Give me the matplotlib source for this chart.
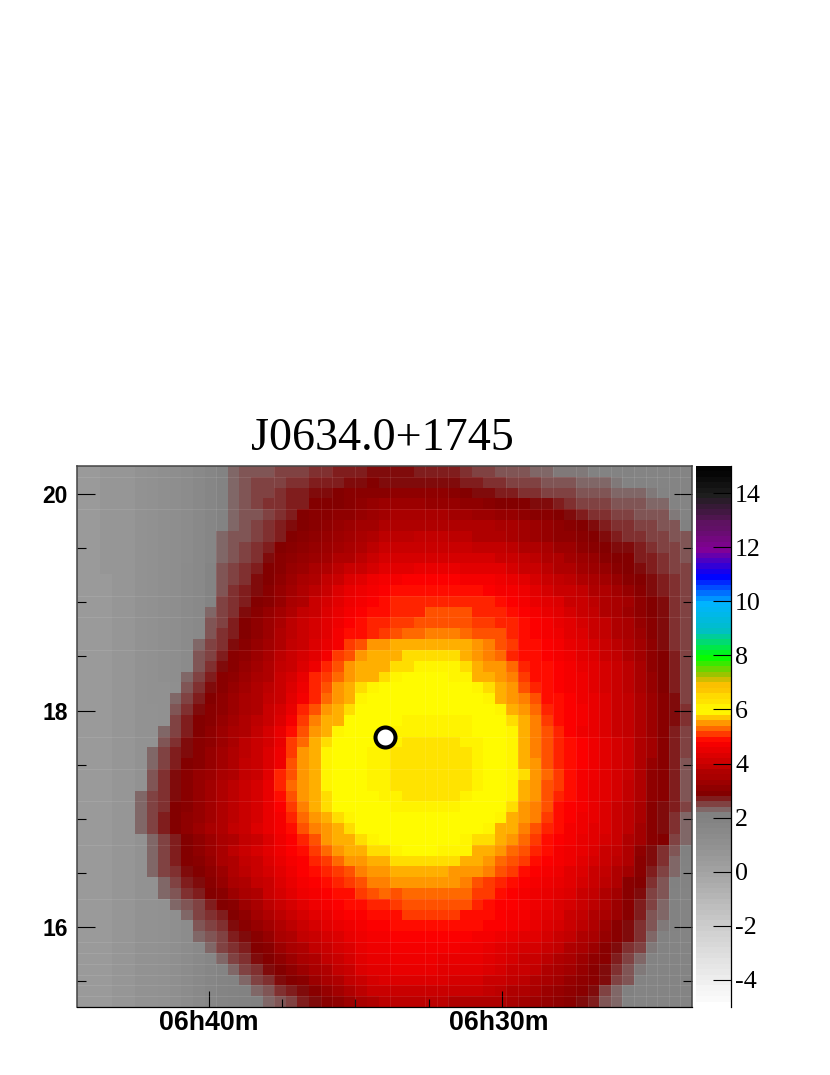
import numpy as np
import matplotlib
matplotlib.use('Agg')
import matplotlib.pyplot as plt
from matplotlib.colors import LinearSegmentedColormap
from matplotlib.transforms import ScaledTranslation

titulo = 'J0634.0+1745'
# celdas del mapa, de arriba abajo, en decimas (25 = 2.5)
mapa = [
 [6,6,7,7,8,9,10,11,12,13, 15,17,19,23,24,24,24,25,25,25, 26,26,27,27,27,28,28,28,28,27, 27,27,27,26,25,25,24,24,24,23, 23,22,22,22,20,19,19,19,18,18, 18,18,18],
 [6,6,7,7,8,9,10,11,12,13, 15,17,19,23,24,25,25,25,26,26, 27,27,27,28,28,29,28,28,28,28, 28,28,28,27,27,26,26,25,25,25, 24,24,24,23,23,23,22,19,19,18, 18,18,18],
 [6,6,7,7,8,9,10,11,12,13, 15,17,19,23,24,25,25,26,27,27, 28,28,29,30,30,30,30,31,31,31, 31,31,30,29,28,28,27,27,26,26, 25,25,25,24,24,24,23,23,23,22, 19,18,18],
 [6,6,7,7,8,9,10,11,12,13, 15,17,19,23,24,25,26,26,27,27, 29,29,29,30,31,32,33,33,33,33, 32,32,32,31,31,30,29,29,29,28, 28,27,26,25,25,25,24,24,24,23, 23,19,18],
 [6,6,7,7,8,9,10,11,12,13, 15,17,19,23,24,24,25,26,27,29, 30,30,31,31,32,33,34,35,35,35, 35,35,34,34,33,33,32,32,31,30, 30,29,28,27,26,26,25,25,24,24, 24,22,19],
 [6,6,7,7,8,9,10,11,12,13, 15,17,19,23,24,25,26,27,28,29, 30,31,32,33,34,34,36,37,37,37, 37,37,36,36,36,36,35,35,34,33, 32,31,30,29,28,27,26,26,25,25, 24,24,21],
 [6,6,7,7,8,9,10,11,12,13, 15,17,23,24,24,25,26,27,29,30, 31,32,33,34,35,36,38,38,38,39, 39,39,38,38,37,37,36,35,34,33, 32,31,31,30,29,28,27,26,26,25, 25,24,24],
 [6,6,7,7,8,9,10,11,12,13, 15,17,23,24,25,26,27,29,30,31, 32,33,34,35,36,38,40,40,40,40, 40,40,40,40,39,39,39,38,37,36, 35,33,33,31,30,29,28,28,27,26, 25,25,24],
 [6,6,7,7,8,9,10,11,12,13, 15,17,23,24,25,26,28,30,31,32, 33,34,36,37,38,40,42,42,42,42, 42,42,42,42,42,42,41,40,39,38, 37,36,34,33,32,30,29,29,27,27, 26,25,24],
 [6,6,7,7,8,9,10,11,12,14, 16,18,24,25,26,27,29,30,32,33, 35,36,38,40,41,42,44,44,44,45, 45,45,45,44,44,44,44,42,41,40, 38,37,36,34,33,32,30,29,28,27, 26,25,25],
 [5,6,6,7,8,9,10,11,12,14, 16,18,24,25,26,28,29,31,33,35, 37,39,41,43,44,46,47,47,48,48, 48,48,48,47,47,47,46,45,44,42, 41,39,38,36,35,34,32,30,29,28, 27,26,25],
 [5,6,6,7,8,9,10,11,12,14, 16,18,24,26,27,28,30,32,34,36, 38,41,43,45,46,47,48,49,49,49, 49,49,49,49,49,48,47,47,46,44, 42,41,40,39,37,36,34,32,30,28, 27,26,25],
 [5,6,6,7,8,9,10,11,12,14, 16,18,25,26,27,29,30,32,35,37, 40,42,44,46,47,48,49,50,50,50, 50,50,50,50,50,50,49,48,47,45, 44,43,41,40,38,37,35,34,31,29, 28,26,25],
 [5,6,6,7,8,9,10,11,12,14, 16,23,25,26,28,30,32,34,37,39, 41,43,45,47,48,49,49,50,50,50, 52,52,52,52,50,50,50,49,48,47, 45,44,42,41,39,37,35,33,31,29, 28,26,25],
 [5,6,6,7,8,9,10,11,12,14, 16,24,25,27,29,31,33,35,38,40, 42,44,46,48,49,50,50,51,51,52, 52,52,52,52,51,51,50,50,49,48, 47,45,44,42,41,39,37,35,32,30, 28,26,25],
 [5,6,6,7,8,9,10,11,12,14, 16,24,26,27,29,31,33,36,38,40, 42,44,47,49,49,50,51,52,53,53, 54,54,54,53,52,52,52,50,49,48, 47,46,44,43,41,39,37,35,33,30, 28,26,25],
 [5,6,6,7,8,9,10,11,12,14, 23,25,26,28,30,32,34,37,39,41, 43,45,47,51,52,55,55,56,56,56, 56,56,56,56,55,54,52,51,49,49, 48,47,45,44,42,40,38,36,34,31, 28,26,25],
 [5,6,6,7,8,9,10,11,12,14, 24,25,27,30,31,33,35,38,40,42, 44,47,51,52,55,56,57,57,58,58, 58,58,58,57,55,54,53,50,49,49, 48,47,46,44,43,41,39,37,34,31, 29,27,25],
 [5,6,6,7,8,9,10,11,12,14, 24,26,28,30,32,34,36,39,41,43, 46,50,52,55,56,57,57,58,58,59, 59,59,59,58,57,55,55,53,50,49, 49,48,47,45,44,42,40,38,35,31, 29,27,25],
 [5,6,6,7,8,9,10,11,12,23, 25,27,30,31,33,35,37,40,42,45, 50,51,53,55,57,57,58,59,60,60, 60,60,59,59,57,56,55,54,51,49, 49,48,47,46,44,42,40,38,35,32, 29,27,25],
 [5,6,6,7,8,9,10,10,11,24, 26,28,30,32,34,36,38,41,43,46, 50,52,55,56,58,59,60,60,60,60, 60,60,60,60,59,58,56,55,52,50, 49,48,47,46,44,42,40,38,35,32, 29,27,25],
 [5,6,6,7,8,9,10,10,23,25, 27,29,31,33,35,37,39,41,44,47, 50,53,55,57,59,60,60,60,60,60, 61,61,60,60,60,59,57,55,54,52, 49,49,48,46,45,43,41,39,36,33, 30,28,25],
 [5,6,6,7,8,9,9,10,24,26, 28,30,31,33,35,37,40,42,45,50, 52,55,56,58,60,60,60,61,61,61, 61,61,61,61,60,60,59,57,55,53, 50,49,48,47,45,43,41,39,36,33, 30,28,26],
 [5,6,6,7,8,9,9,10,25,27, 29,30,32,34,36,38,40,43,47,51, 54,56,57,60,60,60,61,61,62,62, 62,62,62,62,61,60,60,58,56,54, 51,49,48,47,45,43,41,39,36,33, 30,28,26],
 [5,6,6,7,8,9,9,23,25,27, 29,31,33,35,37,39,42,45,49,52, 55,57,59,60,60,61,61,62,62,62, 62,62,62,62,61,60,60,59,56,54, 52,50,48,46,45,43,41,39,36,33, 30,27,25],
 [5,6,6,7,8,9,9,24,26,28, 30,31,33,35,38,40,42,45,51,53, 56,58,60,60,61,61,62,62,63,63, 63,63,63,62,62,61,60,59,57,54, 52,50,49,48,46,44,42,40,37,34, 30,27,25],
 [5,6,6,7,8,9,23,25,27,28, 30,32,34,36,38,40,43,46,51,55, 56,59,60,60,61,62,62,63,63,63, 63,63,63,63,62,61,60,59,57,54, 52,50,49,48,46,44,42,40,37,34, 30,27,25],
 [5,6,6,7,8,9,23,25,27,29, 30,32,34,37,39,41,43,46,52,55, 57,59,60,60,61,62,62,63,63,63, 63,63,63,63,62,61,60,59,57,55, 52,50,49,48,46,44,42,40,37,32, 30,27,24],
 [5,6,6,7,8,9,24,26,28,30, 32,33,35,37,39,41,44,50,52,55, 57,59,60,60,61,62,62,63,63,63, 63,63,63,63,62,61,60,59,58,55, 53,51,49,47,46,44,42,40,37,31, 30,27,24],
 [5,6,6,7,8,9,24,26,28,30, 32,34,36,38,40,42,45,50,53,55, 57,59,60,60,61,62,62,63,63,63, 63,63,63,63,62,61,60,59,57,55, 52,51,49,47,45,44,42,39,36,31, 30,27,24],
 [5,6,6,7,8,23,25,26,28,30, 32,34,36,38,40,42,45,49,52,55, 57,58,60,60,61,61,62,62,63,63, 63,63,63,62,61,60,60,59,56,55, 52,50,49,47,45,44,42,39,36,31, 30,27,24],
 [5,6,6,7,8,23,25,26,29,30, 32,34,36,38,40,42,45,48,51,54, 56,58,60,60,60,61,61,62,62,62, 62,62,62,61,61,60,60,58,55,54, 52,49,48,47,45,43,41,38,35,30, 28,27,25],
 [5,6,6,7,8,23,25,27,29,31, 32,34,36,38,40,42,45,47,50,53, 55,57,58,59,60,60,61,61,61,61, 61,61,61,61,60,60,59,57,55,54, 51,49,48,46,45,43,41,38,35,30, 28,26,23],
 [5,6,6,7,8,23,25,27,29,31, 33,35,37,39,41,43,45,47,49,52, 54,55,57,58,60,60,60,60,60,61, 61,60,60,60,60,59,57,56,54,52, 50,49,47,46,44,43,41,38,34,30, 28,26,23],
 [5,6,6,7,8,9,23,25,27,29, 31,33,35,37,39,41,43,46,48,50, 52,55,56,57,58,59,60,60,60,60, 60,60,60,59,58,58,56,55,53,51, 49,48,47,45,44,42,40,37,34,30, 29,25,23],
 [5,6,6,7,8,9,23,25,27,29, 31,33,35,38,40,42,44,46,48,49, 51,53,55,56,57,58,58,59,60,60, 60,59,59,59,57,56,55,53,52,50, 49,47,46,45,43,41,39,36,31,28, 26,24,21],
 [5,6,6,7,8,9,23,25,27,29, 30,32,35,37,39,41,43,45,47,48, 50,51,53,55,55,56,57,58,58,58, 58,58,58,57,56,55,53,52,51,49, 48,47,46,44,42,41,38,36,30,28, 26,23,20],
 [5,6,6,7,8,9,23,25,26,28, 29,31,33,36,38,40,42,44,46,48, 49,50,51,52,54,55,55,56,56,56, 56,56,55,55,55,54,52,51,49,48, 47,46,44,43,41,39,37,34,30,27, 25,23,19],
 [5,6,6,7,8,9,9,23,25,27, 28,30,32,35,37,39,41,43,45,47, 48,49,50,51,52,54,54,55,55,55, 55,55,55,54,52,51,50,49,48,47, 46,45,44,42,40,38,36,30,29,26, 24,21,19],
 [5,6,6,7,8,9,9,23,24,26, 27,29,30,33,35,37,40,42,44,46, 47,48,49,49,51,52,53,52,53,53, 53,53,53,53,51,51,49,48,47,46, 45,44,43,41,39,37,34,30,28,25, 24,20,18],
 [5,6,6,7,8,9,9,10,23,24, 25,27,29,30,33,35,38,40,42,44, 46,47,48,49,49,50,50,51,52,52, 52,52,52,52,50,49,48,48,47,46, 45,43,42,40,38,36,33,30,27,25, 23,20,18],
 [5,6,6,7,8,9,9,10,11,23, 25,26,27,29,31,34,36,38,40,42, 44,45,47,48,48,49,49,49,51,51, 51,51,51,49,49,49,48,47,47,45, 44,43,41,39,37,35,33,30,27,24, 23,20,18],
 [5,6,6,7,8,9,9,10,11,13, 24,25,26,28,30,32,34,36,38,40, 42,44,45,46,47,48,48,49,49,49, 49,49,49,49,49,48,48,47,46,45, 43,42,40,38,36,33,30,28,26,24, 22,19,18],
 [5,6,6,7,8,9,9,10,11,13, 23,24,25,27,28,30,32,35,37,39, 40,42,43,45,46,47,47,48,48,48, 48,48,48,48,47,47,46,45,44,44, 42,41,39,37,35,32,30,28,26,23, 20,18,18],
 [5,6,6,7,8,9,9,10,11,13, 15,23,25,26,27,29,30,33,35,37, 39,41,42,43,45,46,46,47,47,47, 47,47,47,46,46,45,44,43,42,42, 41,39,37,35,33,30,28,26,25,22, 19,18,18],
 [5,6,6,7,8,9,9,10,11,13, 15,17,23,25,26,28,29,31,33,35, 37,39,41,42,44,45,45,46,46,46, 46,45,45,45,45,44,43,42,41,40, 38,37,35,33,31,30,27,25,23,19, 18,18,18],
 [5,6,6,7,8,9,9,10,11,13, 15,17,18,23,25,26,28,29,31,33, 35,37,39,41,43,44,44,45,45,45, 45,44,44,44,44,43,42,41,40,39, 37,35,34,32,30,28,26,24,22,18, 18,18,18],
 [5,6,6,7,8,9,9,10,11,13, 15,17,18,19,23,25,26,28,29,30, 33,35,37,39,41,42,43,43,43,43, 43,43,42,42,42,41,40,39,38,37, 35,34,32,31,30,28,25,24,19,18, 18,18,18],
 [5,6,6,7,8,9,9,10,11,13, 15,17,18,19,20,23,24,26,27,28, 30,32,34,36,38,40,41,41,41,41, 41,41,40,40,40,39,38,37,36,35, 33,32,31,30,28,25,23,21,18,18, 18,18,18],
 [5,6,6,7,8,9,9,10,11,13, 15,17,18,19,20,21,23,24,25,27, 28,30,31,33,35,37,38,38,38,38, 38,38,37,37,37,37,36,35,34,33, 32,31,30,28,27,24,23,19,18,18, 18,18,18],
]
fuente_ra = 34.0  # minutos de AR sobre 06h
fuente_dec = 17.76
ticks_ra = [40, 30]
etiquetas_ra = ['06h40m', '06h30m']
ticks_ra_menores = [37.5, 35, 32.5]
ticks_dec = [16, 18, 20]
ticks_dec_menores = [15.5, 16.5, 17, 17.5, 18.5, 19, 19.5, 20]
ticks_barra = [-4, -2, 0, 2, 4, 6, 8, 10, 12, 14]
# lineas claras entre celdas que se ven en el original
costuras_col = [12, 17, 21, 22, 24, 27, 30, 31, 32, 37, 38, 40, 41, 43, 44, 45, 46, 47, 48, 49, 50, 51, 52]
costuras_fila = [1, 4, 12, 14, 17, 25, 28, 31, 35, 40, 44, 45, 46, 47, 48, 49]

# paleta de la barra: valor, color
valores_paleta = [-5, -2, 0, 1, 2, 2.2, 2.9, 4.9, 6, 6.3, 6.6, 7, 7.3, 8, 9, 10, 11, 12, 13, 14, 15]
colores_paleta = ['#ffffff', '#cdcdcd', '#a3a3a3', '#919191', '#828282', '#808080', '#800000', '#ff0000', '#ffff00',
                  '#ffe800', '#ffcd00', '#fabe00', '#aabe00', '#00ff00', '#00bec8', '#00b4ff', '#0000ff', '#820096',
                  '#5a145a', '#1e1e1e', '#000000']
VMIN, VMAX = -5, 15
paleta = LinearSegmentedColormap.from_list(
    'fermi', [((v - VMIN) / (VMAX - VMIN), c) for v, c in zip(valores_paleta, colores_paleta)], N=200)

fig = plt.figure(figsize=(8.3, 10.75), dpi=100)
W, H = 830., 1075.
ax = fig.add_axes([77 / W, 1 - 1007 / H, 615 / W, 541 / H])

z = np.array(mapa) / 10.
xlim = (44.5, 23.52)
ylim = (15.26, 20.26)
xb = np.linspace(xlim[0], xlim[1], z.shape[1] + 1)
yb = np.linspace(ylim[1], ylim[0], z.shape[0] + 1)
ax.pcolormesh(xb, yb, z, cmap=paleta, vmin=VMIN, vmax=VMAX, antialiased=False, linewidth=0)
for c in costuras_col:
    ax.axvline(xb[c], color='white', lw=0.5, alpha=0.13)
for f in costuras_fila:
    ax.axhline(yb[f], color='white', lw=0.5, alpha=0.13)
ax.set_xlim(xlim)
ax.set_ylim(ylim)

ax.plot([fuente_ra], [fuente_dec], 'o', color='white', markeredgecolor='black', markersize=14.4, markeredgewidth=2.9)

ax.set_xticks(ticks_ra)
ax.set_xticklabels(etiquetas_ra, fontfamily='Liberation Sans', fontweight='bold', fontsize=19.3)
ax.set_xticks(ticks_ra_menores, minor=True)
ax.set_yticks(ticks_dec)
ax.set_yticklabels([str(t) for t in ticks_dec], fontfamily='Liberation Sans', fontweight='bold', fontsize=16.5)
ax.set_yticks(ticks_dec_menores, minor=True)
ax.tick_params(axis='x', which='major', direction='in', length=11.5, width=0.8, pad=2)
ax.tick_params(axis='x', which='minor', direction='in', length=5.8, width=0.8)
ax.tick_params(axis='y', which='major', direction='in', length=13, width=0.8, pad=6.5, left=True, right=True)
ax.tick_params(axis='y', which='minor', direction='in', length=6.5, width=0.8, left=True, right=True)
# la etiqueta de 06h30m va un poco a la izquierda de su marca
et = ax.get_xticklabels()[1]
et.set_transform(et.get_transform() + ScaledTranslation(-3 / 100, 0, fig.dpi_scale_trans))
for lado in ['top', 'left', 'right']:
    ax.spines[lado].set_color('#444444')
    ax.spines[lado].set_linewidth(1.1)
ax.spines['bottom'].set_linewidth(0.9)

fig.text(382 / W, 1 - 450 / H, titulo, ha='center', va='baseline', family='Liberation Serif', fontsize=33.2)

# barra de color
cax = fig.add_axes([696 / W, 1 - 1007 / H, 35 / W, 541 / H])
niveles = np.linspace(VMIN, VMAX, 101)
cax.pcolormesh([0, 1], niveles, ((niveles[:-1] + niveles[1:]) / 2).reshape(-1, 1),
               cmap=paleta, vmin=VMIN, vmax=VMAX, antialiased=False, linewidth=0)
cax.set_xticks([])
cax.set_yticks(ticks_barra)
cax.set_yticklabels([str(t) for t in ticks_barra], family='Liberation Serif', fontsize=18.7)
cax.yaxis.tick_right()
cax.tick_params(axis='y', direction='in', length=13, width=0.8, pad=3, right=True, left=False)
for lado in ['top', 'left', 'bottom']:
    cax.spines[lado].set_visible(False)
cax.spines['right'].set_linewidth(0.9)

fig.savefig('out.png', dpi=100)
